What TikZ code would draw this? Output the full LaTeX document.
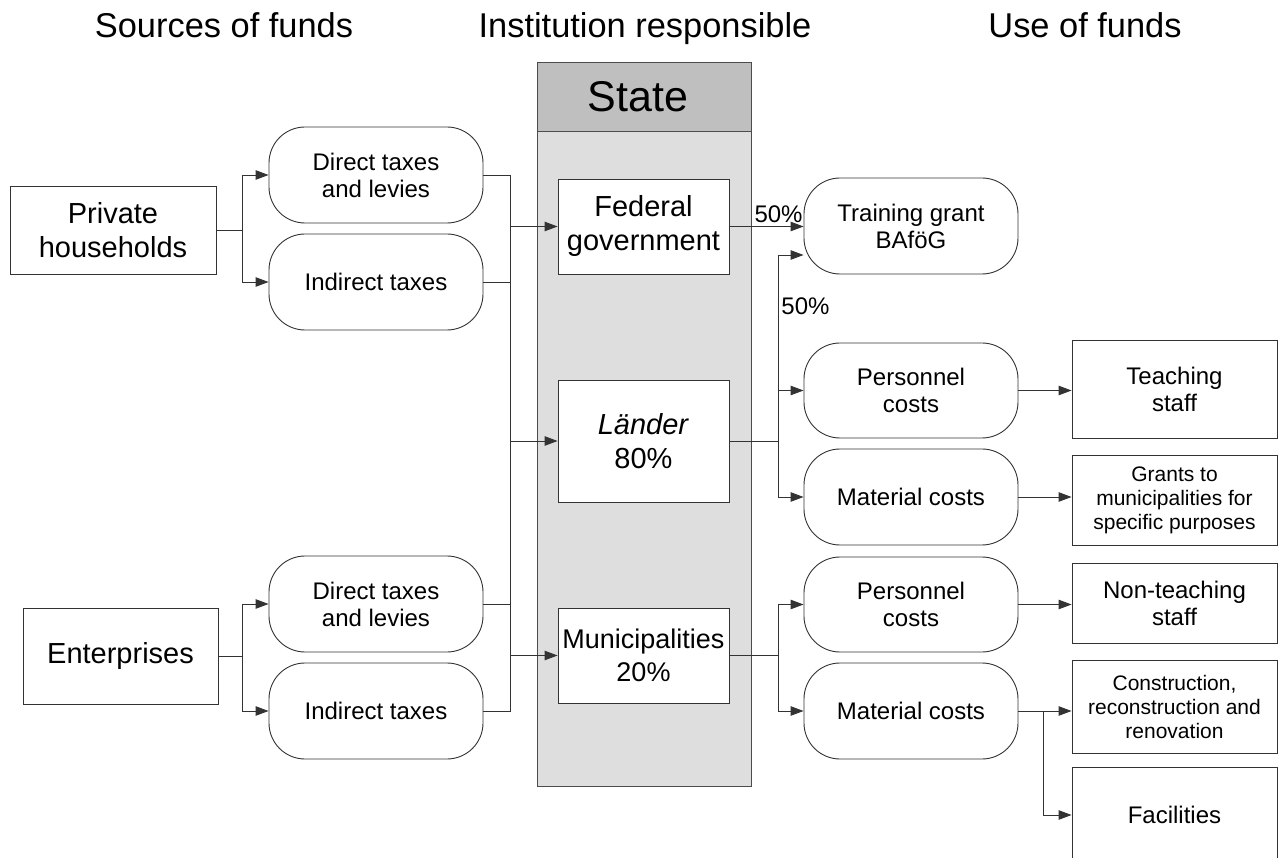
\documentclass[tikz,border=0pt]{standalone}
\usepackage{fontspec}
\setmainfont{Liberation Sans}
\usetikzlibrary{arrows.meta}

\begin{document}
\begin{tikzpicture}[
x=1pt,y=-1pt,
line width=0.9pt,
every node/.style={inner sep=0pt,align=center},
ln/.style={draw=black!80},
arr/.style={ln,-{Triangle[length=13pt,width=9.5pt]}},
head/.style={anchor=base,font=\fontsize{34.4}{40}\selectfont},
src/.style={
	rectangle,minimum height=88pt,
	draw=black!80,fill=white,
	font=\fontsize{29}{34}\selectfont},
tax/.style={
	rectangle,minimum width=214pt,minimum height=96pt,rounded corners=36pt,
	draw=black!80,fill=white,
	font=\fontsize{24}{27}\selectfont},
inst/.style={
	rectangle,minimum width=171pt,minimum height=95pt,
	draw=black!80,fill=white,
	font=\fontsize{29}{34}\selectfont},
cost/.style={tax},
use/.style={
	rectangle,minimum width=205pt,
	draw=black!80,fill=white,
	font=\fontsize{24}{27}\selectfont},
small/.style={font=\fontsize{21}{24}\selectfont},
pct/.style={font=\fontsize{24}{27}\selectfont}
]
\useasboundingbox (0,0) rectangle (1278,858);

% column headings
\node[head] (hsrc) at (224,38) {Sources of funds};
\node[head] (hinst) at (645,38) {Institution responsible};
\node[head] (huse) at (1085,38) {Use of funds};

% the state column
\node[draw=black!70,fill=black!13,minimum width=214pt,minimum height=724pt,anchor=north west] (state) at (537,62) {};
\node[draw=black!70,fill=black!25,minimum width=214pt,minimum height=69pt,anchor=north west] (statehd) at (537,62) {};
\node[font=\fontsize{43}{48}\selectfont] (statetxt) at (638,96.5) {State};

% sources
\node[src,minimum width=206pt] (ph) at (113,230) {Private\\households};
\node[src,minimum width=195pt,minimum height=96pt] (ent) at (120.5,656) {Enterprises};
\node[tax] (dtph) at (376,175) {Direct taxes\\and levies};
\node[tax] (itph) at (376,282) {Indirect taxes};
\node[tax] (dten) at (376,604) {Direct taxes\\and levies};
\node[tax] (iten) at (376,711) {Indirect taxes};

% institutions
\node[inst] (fed) at (643.5,226.5) {Federal\\government};
\node[inst,minimum height=122pt] (laen) at (643.5,441) {\textit{Länder}\\80\%};
\node[inst,font=\fontsize{27}{33}\selectfont] (mun) at (643.5,655.5) {Municipalities\\20\%};

% use of funds
\node[cost] (grant) at (911,226) {Training grant\\BAföG};
\node[cost,minimum height=95pt] (pers1) at (911,390.5) {Personnel\\costs};
\node[cost] (mat1) at (911,497) {Material costs};
\node[cost,minimum height=95pt] (pers2) at (911,604.5) {Personnel\\costs};
\node[cost] (mat2) at (911,711) {Material costs};

\node[use,minimum height=98pt] (teach) at (1174.5,389) {Teaching\\staff};
\node[use,small,minimum height=90pt] (purp) at (1174.5,500) {Grants to\\municipalities for\\specific purposes};
\node[use,minimum height=80pt] (nonteach) at (1174.5,603) {Non-teaching\\staff};
\node[use,small,minimum height=93pt] (constr) at (1174.5,706.5) {Construction,\\reconstruction and\\renovation};
\node[use,minimum height=96pt] (facil) at (1174.5,815) {Facilities};

% bus lines
\coordinate (splitL) at (242,0);
\coordinate (busL) at (510,0);
\coordinate (busR) at (778,0);
\coordinate (busF) at (1043,0);

% households and enterprises
\draw[ln] (ph.east) -- (ph.east -| splitL);
\draw[arr] (ph.east -| splitL) |- (dtph.west);
\draw[arr] (ph.east -| splitL) |- (itph.west);
\draw[ln] (ent.east) -- (ent.east -| splitL);
\draw[arr] (ent.east -| splitL) |- (dten.west);
\draw[arr] (ent.east -| splitL) |- (iten.west);

% taxes into the state
\draw[ln] (dtph.east) -| (busL |- iten.east) -- (iten.east);
\draw[ln] (itph.east) -- (itph.east -| busL);
\draw[ln] (dten.east) -- (dten.east -| busL);
\foreach \n in {fed,laen,mun}
	\draw[arr] (\n.west -| busL) -- (\n.west);

% federal government and Laender
\draw[arr] (fed.east) -- (fed.east -| grant.west);
\node[pct,anchor=base east] (pfed) at (803,223) {50\%};
\draw[ln] (laen.east) -- (laen.east -| busR);
\draw[arr] (mat1.west -| busR) |- ([yshift=-29pt]grant.west);
\node[pct,anchor=base west] (plaen) at (781,315) {50\%};
\draw[arr] (pers1.west -| busR) -- (pers1.west);
\draw[arr] (mat1.west -| busR) -- (mat1.west);

% municipalities
\draw[ln] (mun.east) -- (mun.east -| busR);
\draw[arr] (mat2.west -| busR) |- (pers2.west);
\draw[arr] (mat2.west -| busR) -- (mat2.west);

% costs to uses
\draw[arr] (pers1.east) -- (pers1.east -| teach.west);
\draw[arr] (mat1.east) -- (mat1.east -| purp.west);
\draw[arr] (pers2.east) -- (pers2.east -| nonteach.west);
\draw[arr] (mat2.east) -- (mat2.east -| constr.west);
\draw[arr] (mat2.east -| busF) |- (facil.west);

\end{tikzpicture}
\end{document}
